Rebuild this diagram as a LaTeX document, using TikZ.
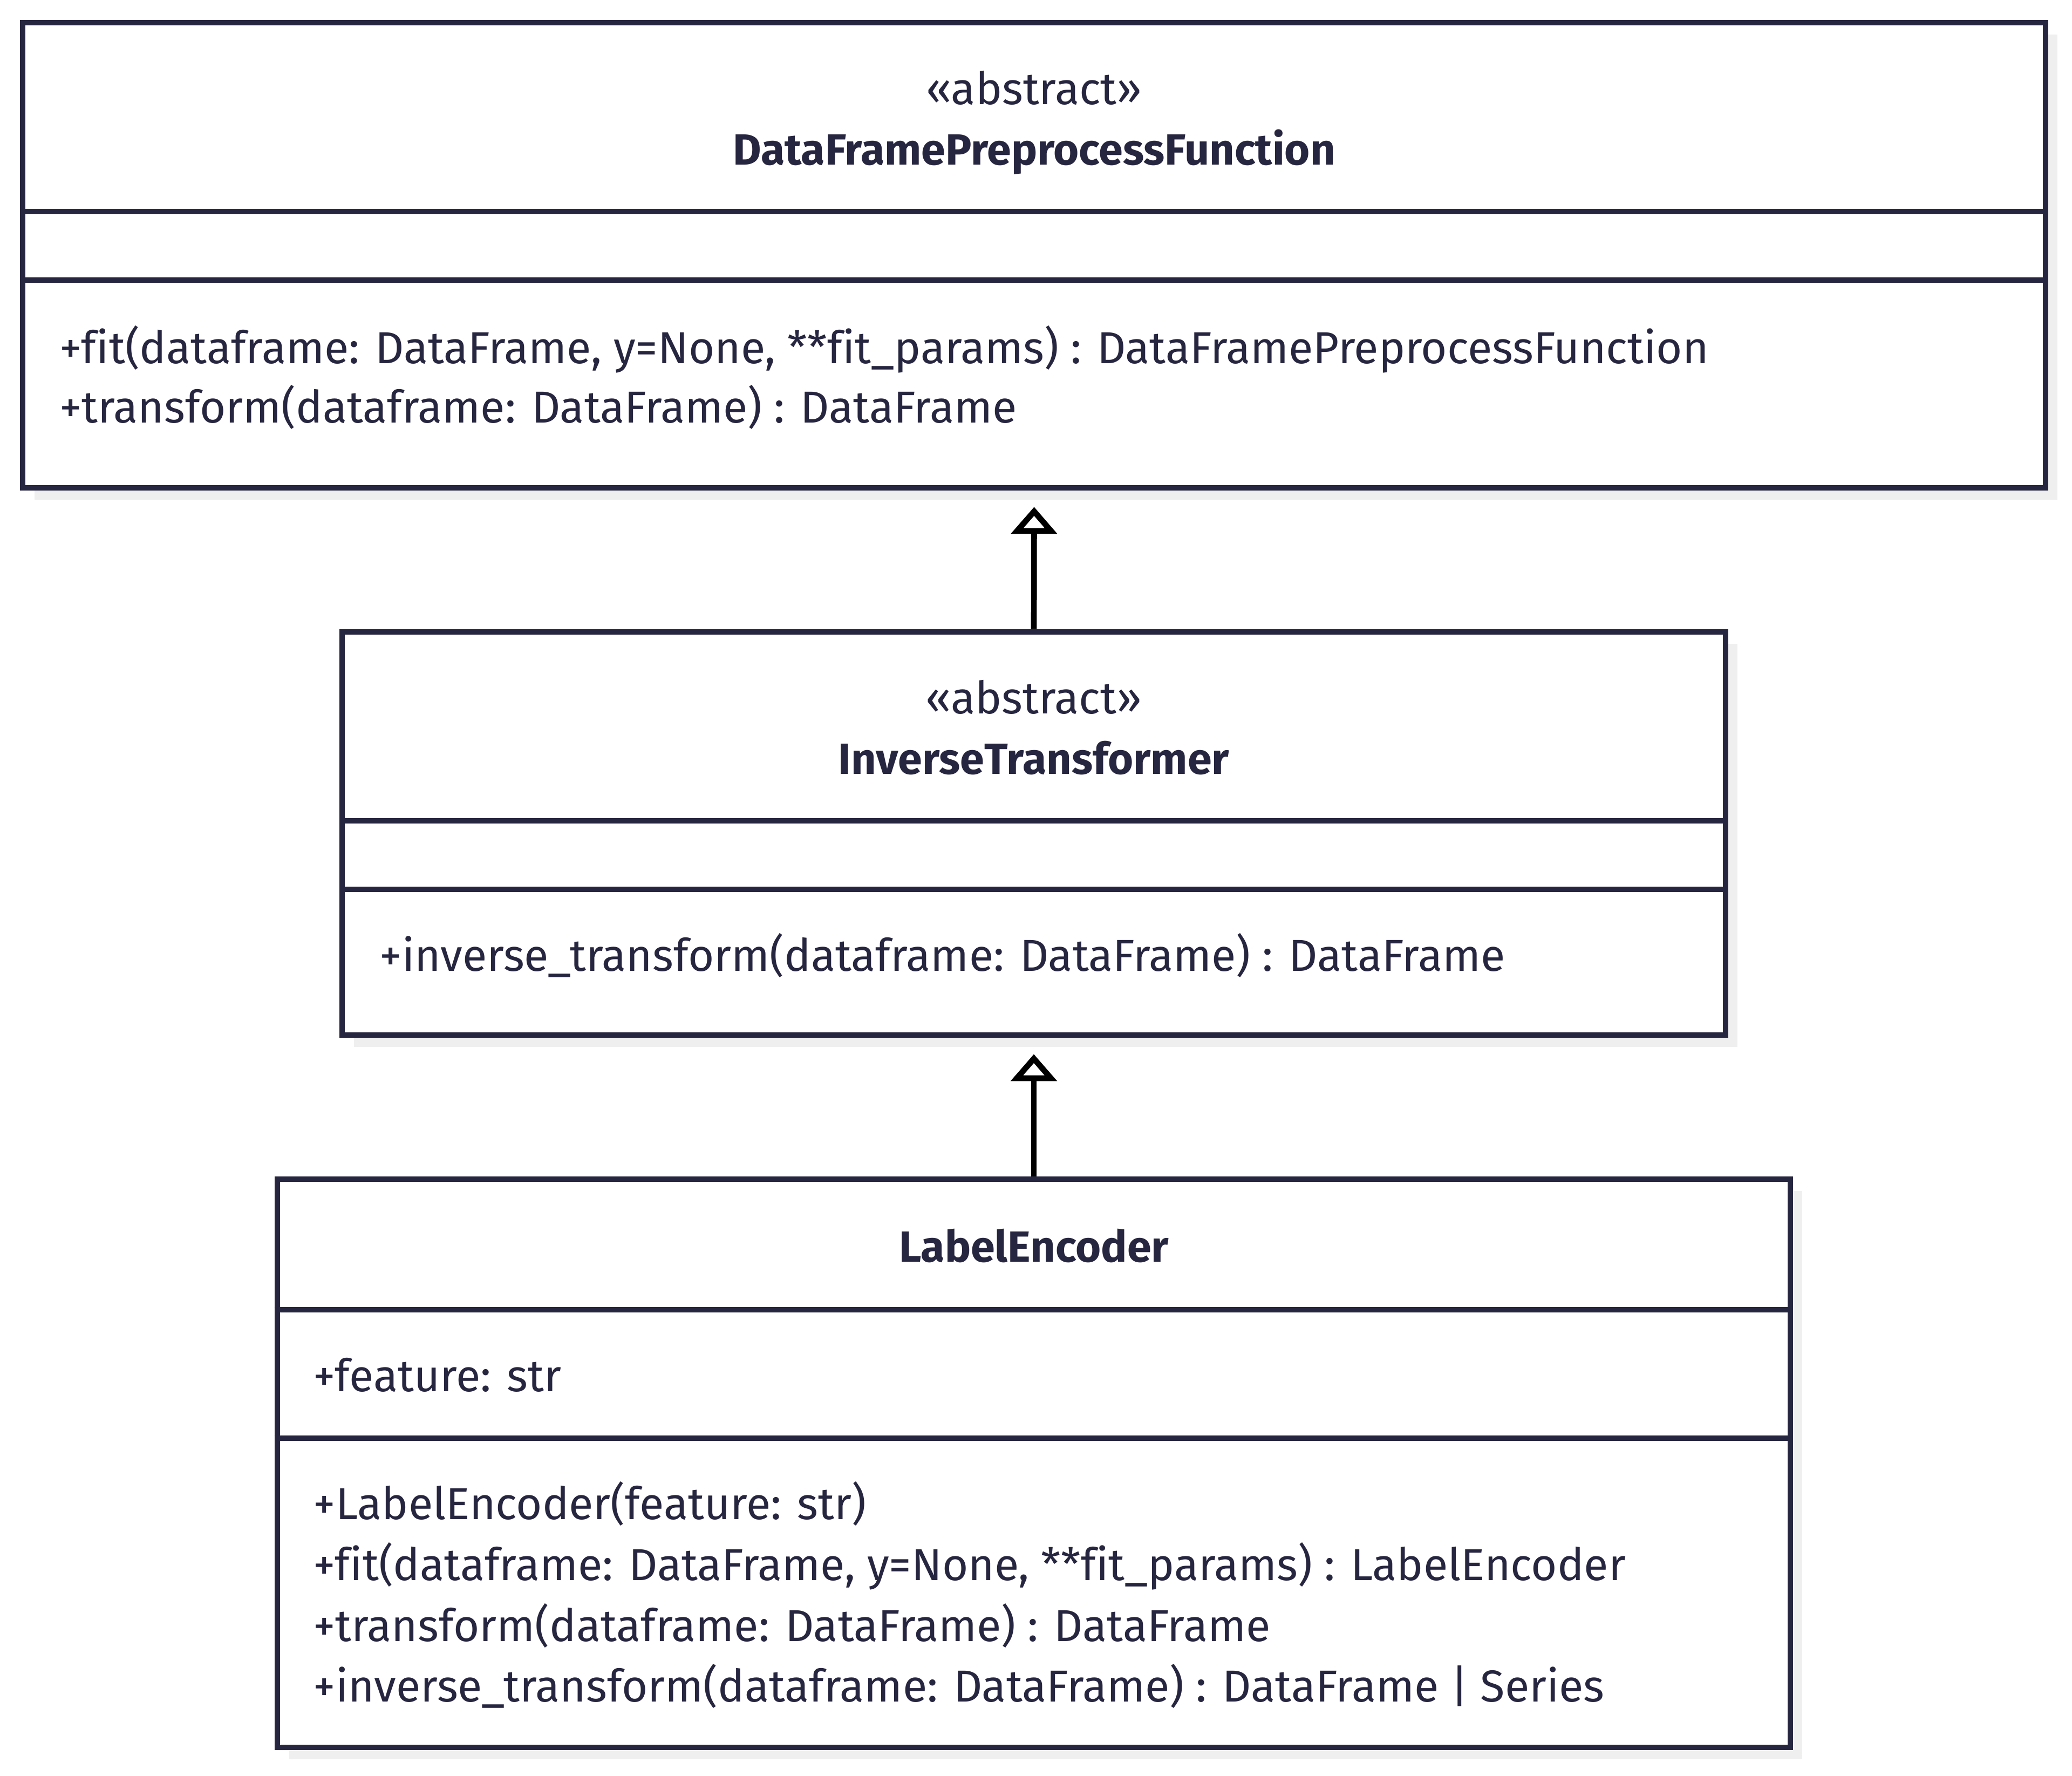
\documentclass[tikz,border=0pt]{standalone}
\usepackage{fontspec}
\setmainfont{Fira Sans}[Ligatures={NoCommon}]
\usetikzlibrary{arrows.meta,shadows}
\definecolor{ink}{HTML}{272640}
\definecolor{shade}{HTML}{EFEFEF}
\tikzset{
  classbox/.style={draw=ink, line width=0.107cm, fill=white, inner sep=0pt,
    general shadow={shadow xshift=0.22cm, shadow yshift=-0.22cm, fill=shade}},
  divider/.style={draw=ink, line width=0.107cm},
  member/.style={anchor=base west, inner sep=0pt, text=ink, font=\fontsize{23.6}{28}\selectfont},
  title/.style={anchor=base, inner sep=0pt, text=ink, font=\fontsize{23.6}{28}\selectfont},
  classname/.style={title, font=\fontsize{23}{28}\selectfont\bfseries},
  inherit/.style={draw=black, line width=0.107cm,
    -{Triangle[open, length=0.5cm, width=0.84cm, fill=white]}}
}
\begin{document}
\begin{tikzpicture}
\useasboundingbox (0,0) rectangle (38.4,-32.9);

% DataFramePreprocessFunction
\node[classbox, minimum width=37.49cm, minimum height=8.62cm] (A) at (19.165,-4.73) {};
\draw[divider] (A.west |- 0,-3.92) coordinate (a1) -- (A.east |- 0,-3.92) coordinate (a2);
\draw[divider] (A.west |- 0,-5.19) coordinate (a3) -- (A.east |- 0,-5.19) coordinate (a4);
\node[title] (Astereo) at (19.165,-1.93) {«abstract»};
\node[classname] (Aname) at (19.165,-3.05) {DataFramePreprocessFunction};
\node[member] (Afit) at (1.10,-6.73) {+fit(dataframe: DataFrame, y=None, **fit\_params) : DataFramePreprocessFunction};
\node[member] (Atransform) at (1.10,-7.83) {+transform(dataframe: DataFrame) : DataFrame};

% InverseTransformer
\node[classbox, minimum width=25.64cm, minimum height=7.47cm] (B) at (19.16,-15.445) {};
\draw[divider] (B.west |- 0,-15.21) -- (B.east |- 0,-15.21);
\draw[divider] (B.west |- 0,-16.48) -- (B.east |- 0,-16.48);
\node[title] (Bstereo) at (19.16,-13.22) {«abstract»};
\node[classname] (Bname) at (19.16,-14.34) {InverseTransformer};
\node[member] (Binv) at (7.03,-17.99) {+inverse\_transform(dataframe: DataFrame) : DataFrame};

% LabelEncoder
\node[classbox, minimum width=28.04cm, minimum height=10.53cm] (C) at (19.16,-27.115) {};
\draw[divider] (C.west |- 0,-24.27) -- (C.east |- 0,-24.27);
\draw[divider] (C.west |- 0,-26.65) -- (C.east |- 0,-26.65);
\node[classname] (Cname) at (19.16,-23.38) {LabelEncoder};
\node[member] (Cfeature) at (5.80,-25.78) {+feature: str};
\node[member] (Cinit) at (5.80,-28.15) {+LabelEncoder(feature: str)};
\node[member] (Cfit) at (5.80,-29.28) {+fit(dataframe: DataFrame, y=None, **fit\_params) : LabelEncoder};
\node[member] (Ctransform) at (5.80,-30.41) {+transform(dataframe: DataFrame) : DataFrame};
\node[member] (Cinv) at (5.80,-31.53) {+inverse\_transform(dataframe: DataFrame) : DataFrame | Series};

% generalisation arrows
\coordinate (Atip) at ([yshift=-0.30cm]A.south);
\coordinate (Btip) at ([yshift=-0.30cm]B.south);
\draw[inherit] (B.north) -- (Atip);
\draw[inherit] (C.north) -- (Btip);
\end{tikzpicture}
\end{document}
